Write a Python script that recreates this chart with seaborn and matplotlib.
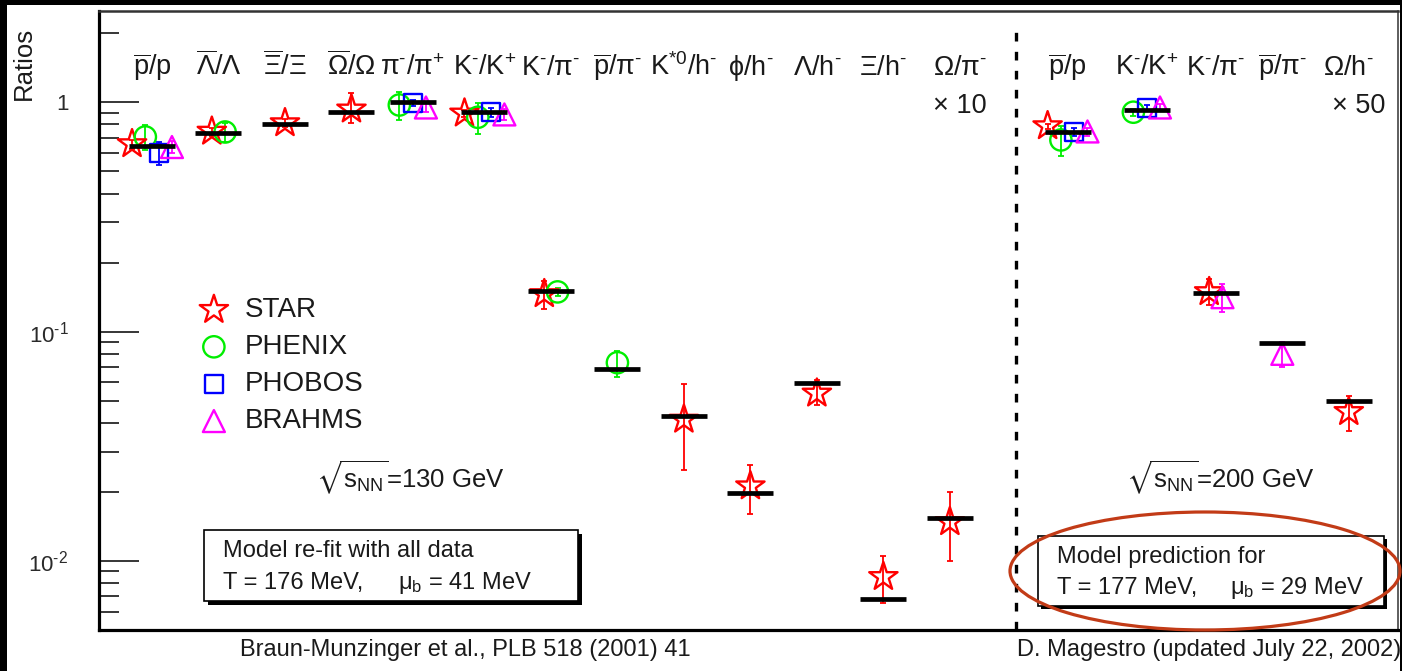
import numpy as np
import pandas as pd
import matplotlib
matplotlib.use("Agg")
import matplotlib.pyplot as plt
import matplotlib.transforms as mtransforms
from matplotlib.patches import Rectangle, Ellipse
from matplotlib.ticker import FixedLocator, FixedFormatter, LogLocator, NullFormatter
import seaborn as sns

# ---------------------------------------------------------------- data
# particle ratios at sqrt(s_NN) = 130 GeV
keys_130 = ["pbar/p", "Lbar/L", "Xbar/X", "Obar/O", "pi-/pi+", "K-/K+", "K-/pi-",
            "pbar/pi-", "K*0/h-", "phi/h-", "L/h-", "X/h-", "O/pi-"]
labels_130 = [r"$\overline{\mathrm{p}}$/p", r"$\overline{\Lambda}$/$\Lambda$",
              r"$\overline{\Xi}$/$\Xi$", r"$\overline{\Omega}$/$\Omega$",
              "$\\mathrm{\\pi^{\u2010}/\\pi^{+}}$", "K$^{\u2010}$/K$^{+}$",
              "K$^{\u2010}$/$\\mathrm{\\pi^{\u2010}}$",
              "$\\overline{\\mathrm{p}}$/$\\mathrm{\\pi^{\u2010}}$", "K$^{*0}$/h$^{\u2010}$",
              "$\\mathrm{\\phi}$/h$^{\u2010}$", "$\\Lambda$/h$^{\u2010}$",
              "$\\Xi$/h$^{\u2010}$", "$\\Omega$/$\\mathrm{\\pi^{\u2010}}$"]
model_130 = [0.645, 0.737, 0.804, 0.910, 1.006, 0.905, 0.1508, 0.0689, 0.0430,
             0.0197, 0.0599, 0.00680, 0.01543]

# particle ratios at sqrt(s_NN) = 200 GeV
keys_200 = ["pbar/p@200", "K-/K+@200", "K-/pi-@200", "pbar/pi-@200", "O/h-@200"]
labels_200 = [r"$\overline{\mathrm{p}}$/p", "K$^{\u2010}$/K$^{+}$",
              "K$^{\u2010}$/$\\mathrm{\\pi^{\u2010}}$",
              "$\\overline{\\mathrm{p}}$/$\\mathrm{\\pi^{\u2010}}$", "$\\Omega$/h$^{\u2010}$"]
model_200 = [0.744, 0.926, 0.1469, 0.0889, 0.0498]

# scale factors applied to the last ratio of each energy
scale_notes = {"O/pi-": "\u00d7 10", "O/h-@200": "\u00d7 50"}

# y-axis decade labels
ytick_values = [0.01, 0.1, 1]
ytick_labels = ["$10^{\u20102}$", "$10^{\u20101}$", "1"]

# measurements
star_keys = ["pbar/p", "Lbar/L", "Xbar/X", "Obar/O", "K-/K+", "K-/pi-", "K*0/h-", "phi/h-",
             "L/h-", "X/h-", "O/pi-", "pbar/p@200", "K-/pi-@200", "O/h-@200"]
star_vals = [0.658, 0.746, 0.812, 0.932, 0.895, 0.146, 0.0414, 0.0212,
             0.0538, 0.00853, 0.0148, 0.788, 0.149, 0.0447]
star_lo = [0.03, 0.03, 0.03, 0.12, 0.03, 0.020, 0.0165, 0.0052,
           0.0059, 0.00196, 0.0048, 0.02, 0.0187, 0.0079]
star_hi = [0.03, 0.03, 0.03, 0.17, 0.03, 0.021, 0.0175, 0.0049,
           0.0077, 0.00197, 0.0051, 0.02, 0.0203, 0.0078]

phenix_keys = ["pbar/p", "Lbar/L", "pi-/pi+", "K-/K+", "K-/pi-", "pbar/pi-",
               "pbar/p@200", "K-/K+@200"]
phenix_vals = [0.706, 0.742, 0.973, 0.860, 0.149, 0.0732, 0.685, 0.905]
phenix_err = [0.087, 0.07, 0.138, 0.135, 0.006, 0.0095, 0.10, 0.03]

phobos_keys = ["pbar/p", "pi-/pi+", "K-/K+", "pbar/p@200", "K-/K+@200"]
phobos_vals = [0.601, 0.990, 0.905, 0.740, 0.947]
phobos_err = [0.068, 0.03, 0.04, 0.03, 0.03]

brahms_keys = ["pbar/p", "pi-/pi+", "K-/K+", "pbar/p@200", "K-/K+@200", "K-/pi-@200",
               "pbar/pi-@200"]
brahms_vals = [0.638, 0.949, 0.885, 0.746, 0.949, 0.1413, 0.0800]
brahms_err = [0.04, 0.04, 0.05, 0.03, 0.03, 0.02, 0.010]

experiments = ["STAR", "PHENIX", "PHOBOS", "BRAHMS"]

# ---------------------------------------------------------------- layout / style
W, H = 1402, 671
pos_130 = [0, 1, 2, 3, 3.92, 5, 6, 7, 8, 9, 10, 11, 12]
pos_200 = [13.77, 14.96, 16, 17, 18]
divider_x = 13
bar_half = 0.346
dodge_step = 0.2

colors = {"STAR": "#ff0000", "PHENIX": "#00ee00", "PHOBOS": "#0000ff", "BRAHMS": "#ff00ff"}
markers = {"STAR": "*", "PHENIX": "o", "PHOBOS": "s", "BRAHMS": "^"}
sizes = {"STAR": 460, "PHENIX": 235, "PHOBOS": 165, "BRAHMS": 250}
ink = "#1a1a1a"

sns.set_theme(style="white")
plt.rcParams["font.family"] = ["Liberation Sans", "DejaVu Sans"]
plt.rcParams["mathtext.fontset"] = "custom"
plt.rcParams["mathtext.rm"] = "Liberation Sans"
plt.rcParams["mathtext.it"] = "Liberation Sans:italic"
plt.rcParams["mathtext.bf"] = "Liberation Sans:bold"
plt.rcParams["mathtext.sf"] = "Liberation Sans"
plt.rcParams["mathtext.fallback"] = "stixsans"


def fx(px):
    return px / W


def fy(py):
    return 1 - py / H


# ---------------------------------------------------------------- tidy table
pos_of = dict(zip(keys_130 + keys_200, pos_130 + pos_200))
frames = [
    pd.DataFrame({"key": star_keys, "value": star_vals, "lo": star_lo, "hi": star_hi,
                  "experiment": "STAR"}),
    pd.DataFrame({"key": phenix_keys, "value": phenix_vals, "lo": phenix_err,
                  "hi": phenix_err, "experiment": "PHENIX"}),
    pd.DataFrame({"key": phobos_keys, "value": phobos_vals, "lo": phobos_err,
                  "hi": phobos_err, "experiment": "PHOBOS"}),
    pd.DataFrame({"key": brahms_keys, "value": brahms_vals, "lo": brahms_err,
                  "hi": brahms_err, "experiment": "BRAHMS"}),
]
df = pd.concat(frames, ignore_index=True)
n_in_cat = df.groupby("key")["experiment"].transform("count")
rank = df.groupby("key").cumcount()
df["x"] = df["key"].map(pos_of) + (rank - (n_in_cat - 1) / 2) * dodge_step

# ---------------------------------------------------------------- figure
fig = plt.figure(figsize=(W / 100, H / 100), dpi=100, facecolor="black")
fig.add_artist(Rectangle((fx(7), 0), fx(1400) - fx(7), fy(5), transform=fig.transFigure,
                         facecolor="white", edgecolor="none", zorder=-10))
ax = fig.add_axes([fx(99), fy(630), fx(1398) - fx(99), fy(11) - fy(630)])
ax.set_facecolor("white")
ax.set_yscale("log")
ax.set_ylim(0.005, 2.5)
ax.set_xlim(-0.797, 18.74)

# model values
model_x = np.array(pos_130 + pos_200)
model_y = np.array(model_130 + model_200)
ax.hlines(model_y, model_x - bar_half, model_x + bar_half, color="black", lw=3.4, zorder=5)

# measurements with error bars
handles = []
for exp in experiments:
    sub = df[df["experiment"] == exp]
    c = colors[exp]
    ax.errorbar(sub["x"], sub["value"], yerr=[sub["lo"], sub["hi"]], fmt="none",
                ecolor=c, elinewidth=1.3, capsize=2.3, capthick=1.3, zorder=3)
    before = len(ax.collections)
    sns.scatterplot(data=sub, x="x", y="value", marker=markers[exp], s=sizes[exp],
                    color=c, facecolors="none", edgecolor=c, linewidth=1.7,
                    ax=ax, zorder=4, legend=False)
    handles.append(ax.collections[before])

ax.set_xlabel("")
ax.set_ylabel("")

# separator between the two energies
ax.plot([divider_x, divider_x], [0.005, 2.1], color="black", lw=2.4,
        linestyle=(0, (2.6, 3.1)), zorder=2)

# axes cosmetics
ax.yaxis.set_major_locator(FixedLocator(ytick_values))
ax.yaxis.set_major_formatter(FixedFormatter(ytick_labels))
ax.yaxis.set_minor_locator(LogLocator(base=10, subs=np.arange(2, 10) * 1.0, numticks=30))
ax.yaxis.set_minor_formatter(NullFormatter())
ax.tick_params(axis="y", which="major", direction="in", length=28.8, width=1.1, pad=22,
               labelsize=16, labelcolor="#2a2a2a", color="black", left=True, right=False)
ax.tick_params(axis="y", which="minor", direction="in", length=14.4, width=1.1,
               color="black", left=True, right=False)
ax.tick_params(axis="x", which="both", bottom=False, top=False, labelbottom=False)
for side, lw in [("left", 2.3), ("bottom", 2.3), ("top", 1.8), ("right", 1.1)]:
    ax.spines[side].set_visible(True)
    ax.spines[side].set_linewidth(lw)
    ax.spines[side].set_color("black" if side in ("left", "bottom") else "#333333")

# ratio labels along the top
lab_tr = mtransforms.blended_transform_factory(ax.transData, fig.transFigure)
for key, lab, p in zip(keys_130 + keys_200, labels_130 + labels_200, pos_130 + pos_200):
    dx = 0.15 if key == "O/pi-" else 0.0
    ax.text(p + dx, fy(75), lab, transform=lab_tr, ha="center", va="baseline",
            fontsize=19.5, color=ink)
    if key in scale_notes:
        ax.text(p + 0.15, fy(113), scale_notes[key], transform=lab_tr, ha="center",
                va="baseline", fontsize=19.5, color=ink)

# legend
ax.legend(handles, experiments, loc="upper left", bbox_to_anchor=(fx(200), fy(297)),
          bbox_transform=fig.transFigure, frameon=False, fontsize=20, handlelength=1.0,
          handletextpad=0.62, labelspacing=0.40, borderpad=0, borderaxespad=0,
          scatterpoints=1, labelcolor=ink)

# energy labels
fig.text(fx(410), fy(478), r"$\sqrt{\mathrm{s}_{\mathrm{NN}}}$=130 GeV", ha="center",
         va="center", fontsize=18.5, color=ink)
fig.text(fx(1220), fy(478), r"$\sqrt{\mathrm{s}_{\mathrm{NN}}}$=200 GeV", ha="center",
         va="center", fontsize=18.5, color=ink)


def pave(x0, y0, x1, y1, shadow=4):
    fig.add_artist(Rectangle((fx(x0 + shadow), fy(y1 + shadow)), fx(x1 - x0), fy(y0) - fy(y1),
                             transform=fig.transFigure, facecolor="black",
                             edgecolor="none", zorder=6))
    fig.add_artist(Rectangle((fx(x0), fy(y1)), fx(x1 - x0), fy(y0) - fy(y1),
                             transform=fig.transFigure, facecolor="white",
                             edgecolor="black", lw=1.2, zorder=7))


pave(204, 530, 578, 601)
fig.text(fx(223), fy(551), "Model re-fit with all data", ha="left", va="center",
         fontsize=17, color=ink, zorder=8)
fig.text(fx(223), fy(583), "T = 176 MeV,", ha="left", va="center", fontsize=17,
         color=ink, zorder=8)
fig.text(fx(398), fy(583), r"$\mathrm{\mu_{b}}$ = 41 MeV", ha="left", va="center",
         fontsize=17, color=ink, zorder=8)

pave(1038, 536, 1384, 606, shadow=3)
fig.text(fx(1057), fy(557), "Model prediction for", ha="left", va="center",
         fontsize=17, color=ink, zorder=8)
fig.text(fx(1057), fy(588), "T = 177 MeV,", ha="left", va="center", fontsize=17,
         color=ink, zorder=8)
fig.text(fx(1230), fy(588), r"$\mathrm{\mu_{b}}$ = 29 MeV", ha="left", va="center",
         fontsize=17, color=ink, zorder=8)

# highlight around the prediction
fig.add_artist(Ellipse((fx(1205), fy(571)), 390 / W, 118 / H, transform=fig.transFigure,
                       fill=False, edgecolor="#c23b17", lw=2.3, zorder=10))

# axis title and credits
fig.text(fx(24), fy(63), "Ratios", rotation=90, ha="center", va="center",
         fontsize=18.5, color=ink)
fig.text(fx(240), fy(650), "Braun-Munzinger et al., PLB 518 (2001) 41", ha="left",
         va="center", fontsize=17, color=ink)
fig.text(fx(1017), fy(650), "D. Magestro (updated July 22, 2002)", ha="left",
         va="center", fontsize=17, color=ink)

fig.savefig("out.png", dpi=100, facecolor=fig.get_facecolor())
